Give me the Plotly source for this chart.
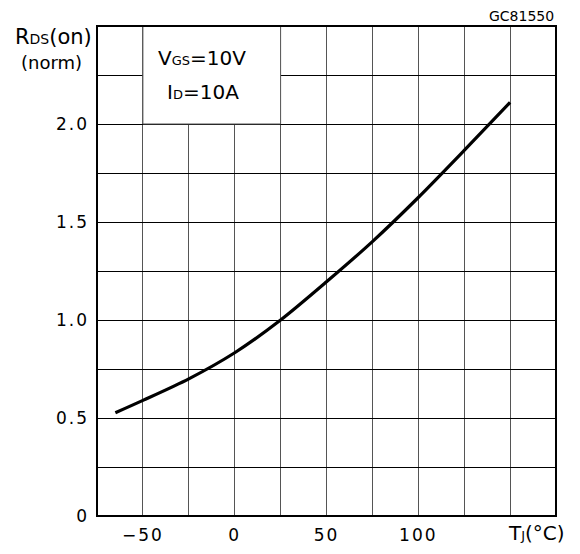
import plotly.graph_objects as go

# Data
temp_c = [-65, -50, -25, 0, 25, 50, 75, 100, 125, 150]
rds_norm = [0.527, 0.59, 0.70, 0.833, 1.0, 1.195, 1.40, 1.625, 1.865, 2.11]

x_grid = [-75, -50, -25, 0, 25, 50, 75, 100, 125, 150, 175]
x_labels = ["", "\u221250", "", "0", "", "50", "", "100", "", "", ""]
y_grid = [0, 0.25, 0.5, 0.75, 1.0, 1.25, 1.5, 1.75, 2.0, 2.25, 2.5]
y_labels = ["0", "", "0.5", "", "1.0", "", "1.5", "", "2.0", "", ""]

FONT = "DejaVu Sans"
GRID = "#555555"


def spaced(t, sp=2.0):
    return f"<span style='letter-spacing:{sp}px'>{t}</span>" if t else ""


fig = go.Figure()
fig.add_trace(go.Scatter(
    x=temp_c, y=rds_norm, mode="lines",
    line=dict(color="black", width=3.2, shape="spline", smoothing=0.8),
    showlegend=False, hoverinfo="skip",
))

# body has an 8px margin in the page, so the figure is offset by (8, 8)
fig.update_layout(
    width=580, height=554,
    margin=dict(l=89, r=32, t=18, b=46),
    paper_bgcolor="white", plot_bgcolor="white",
    font=dict(family=FONT, size=17, color="black"),
    xaxis=dict(range=[-75, 175], tickvals=x_grid,
               ticktext=[spaced(t) for t in x_labels],
               showgrid=True, gridcolor=GRID, gridwidth=1, zeroline=False,
               ticks="", ticklabelstandoff=7, showline=False,
               tickfont=dict(family=FONT, size=17, color="black")),
    yaxis=dict(range=[0, 2.5], tickvals=y_grid,
               ticktext=[spaced(t) for t in y_labels],
               showgrid=True, gridcolor="black", gridwidth=1, zeroline=False,
               ticks="", ticklabelstandoff=7, showline=False,
               tickfont=dict(family=FONT, size=17, color="black")),
)

# white legend box area over the grid
fig.add_shape(type="rect", xref="x", yref="y", x0=-50, x1=25, y0=2.0, y1=2.5,
              fillcolor="white", line=dict(color=GRID, width=1), layer="above")
# plot frame
fig.add_shape(type="rect", xref="paper", yref="paper", x0=0, x1=1, y0=0, y1=1,
              line=dict(color="black", width=2), layer="above")

common = dict(showarrow=False, xanchor="center", yanchor="middle")

fig.add_annotation(xref="x", yref="y", x=-17.8, y=2.337,
                   text="V<span style='font-size:13px'>GS</span>=10V",
                   font=dict(family=FONT, size=20, color="black"), **common)
fig.add_annotation(xref="x", yref="y", x=-17.3, y=2.163,
                   text="I<span style='font-size:13px'>D</span>=10A",
                   font=dict(family=FONT, size=20, color="black"), **common)

fig.add_annotation(xref="paper", yref="paper", x=-0.0937, y=0.9776,
                   text="R<span style='font-size:14px'>DS</span>(on)",
                   font=dict(family=FONT, size=21, color="black"), **common)
fig.add_annotation(xref="paper", yref="paper", x=-0.1002, y=0.9245,
                   text="(norm)",
                   font=dict(family=FONT, size=18, color="black"), **common)
fig.add_annotation(xref="paper", yref="paper", x=0.9586, y=-0.0347,
                   text="T<span style='font-size:13px'>J</span>(°C)",
                   font=dict(family=FONT, size=20, color="black"), **common)
fig.add_annotation(xref="paper", yref="paper", x=1.0, y=1.021,
                   showarrow=False, xanchor="right", yanchor="middle",
                   text="GC81550",
                   font=dict(family=FONT, size=14, color="black"))

fig.write_html("out.html")
